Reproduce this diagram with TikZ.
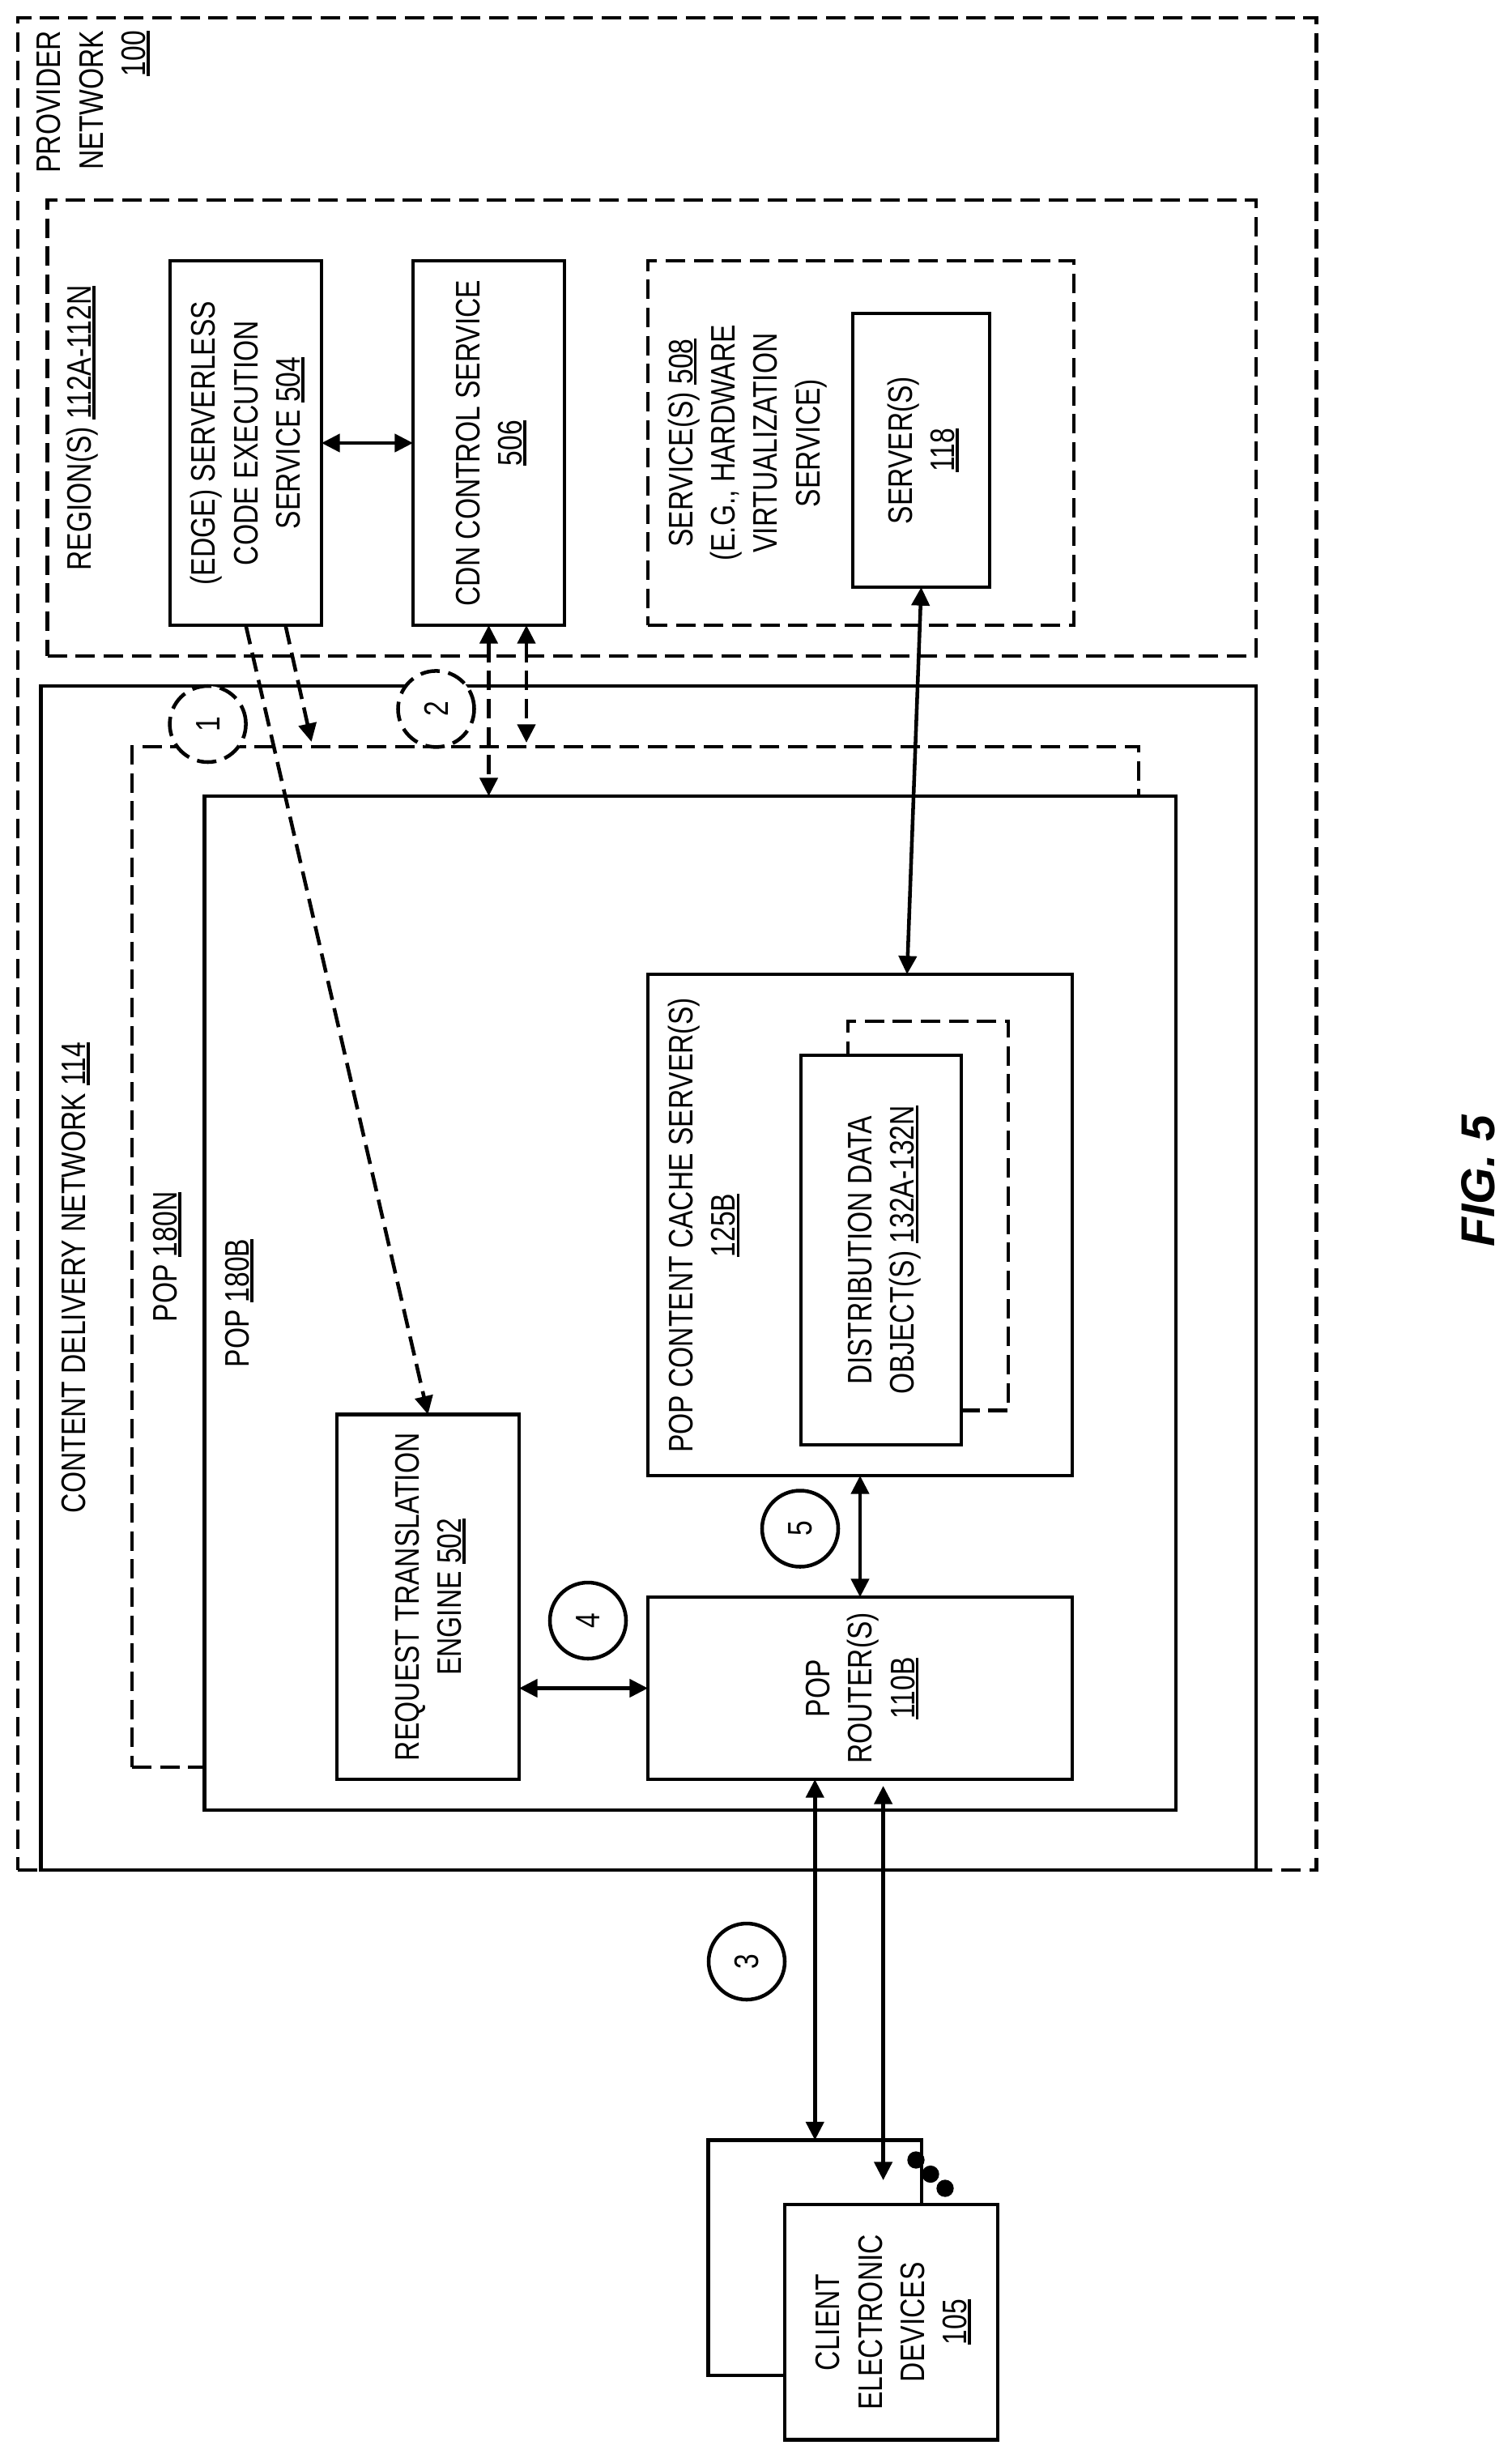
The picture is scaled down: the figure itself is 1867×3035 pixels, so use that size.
\documentclass[tikz,border=0pt]{standalone}
\usepackage{fontspec}
\setmainfont[FakeStretch=0.8]{Liberation Sans}
\newfontfamily\figfont[FakeStretch=1.0]{Liberation Sans}
\usetikzlibrary{arrows.meta}

\newcommand{\refnum}[1]{\setbox0\hbox{#1}\rlap{\smash{\raisebox{-4pt}{\rule{\wd0}{2.8pt}}}}\box0}
\newcommand{\vtext}[2][c]{\rotatebox{90}{\setbox\strutbox\hbox{\vrule height 30.7pt depth 8.6pt width 0pt}\begin{tabular}{@{}#1@{}}#2\end{tabular}}}

\tikzset{
  sized/.style 2 args={minimum width=#1*0.75pt,minimum height=#2*0.75pt},
  box/.style={draw,line width=3.4pt,inner sep=0pt,outer sep=0pt,fill=white},
  dashbox/.style={box,dash pattern=on 18pt off 8pt,line width=3.2pt},
  label/.style={inner sep=0pt,outer sep=0pt},
  numcircle/.style={box,circle,minimum size=70.5pt},
  dashcircle/.style={numcircle,dash pattern=on 18pt off 8pt},
  dot/.style={circle,fill=black,inner sep=0pt,minimum size=16pt},
  bothway/.style={line width=3.4pt,{Triangle[length=17pt,width=16.5pt]}-{Triangle[length=17pt,width=16.5pt]}},
  dashway/.style={bothway,dash pattern=on 18pt off 8pt},
  oneway/.style={line width=3.4pt,dash pattern=on 18pt off 8pt,-{Triangle[length=17pt,width=16.5pt]}}
}

\begin{document}
\begin{tikzpicture}[x=0.75pt,y=0.75pt,yscale=-1,xscale=1,font=\fontsize{31.5}{37.7}\selectfont]
\useasboundingbox (0,0) rectangle (1867,3035);

%Shape: Rectangle [provider network]
\node (provider) [dashbox,sized={1603.5}{2287}] at (823.75,1165.5) {};
%Shape: Rectangle [regions]
\node (region) [dashbox,sized={1492.5}{563}] at (804.75,528.5) {};
\node (edge) [box,sized={187}{450}] at (303.5,547) {\vtext{(EDGE) SERVERLESS\\CODE EXECUTION\\SERVICE \refnum{504}}};
\node (cdnctl) [box,sized={187}{450}] at (603.5,547) {\vtext{CDN CONTROL SERVICE\\\refnum{506}}};
\node (service) [dashbox,sized={526}{450}] at (1063,547) {};
\node (server) [box,sized={169}{338}] at (1137.5,556) {\vtext{SERVER(S)\\\refnum{118}}};
%Shape: Rectangle [content delivery network]
\node (cdnnet) [box,sized={1500.5}{1462}] at (800.75,1578) {};
\node (popn) [dashbox,sized={1243}{1260}] at (784.5,1552) {};
\node (popb) [box,sized={1199.4}{1252}] at (852.3,1609) {};
\node (rte) [box,sized={225}{450.5}] at (528.5,1971.75) {\vtext{REQUEST TRANSLATION\\ENGINE \refnum{502}}};
\node (cache) [box,sized={524}{619}] at (1062,1512.5) {};
\node (distback) [dashbox,sized={198}{480.5}] at (1146,1501.25) {};
\node (dist) [box,sized={198}{481}] at (1088,1543.5) {\vtext{DISTRIBUTION DATA\\OBJECT(S) \refnum{132A-132N}}};
\node (router) [box,sized={524}{225}] at (1062,2084.5) {\vtext{POP\\ROUTER(S)\\\refnum{110B}}};
%Shape: Rectangle [clients]
\node (clientback) [box,sized={263.5}{290.5}] at (1006.25,2787.75) {};
\node (client) [box,sized={263}{290.5}] at (1100.5,2867.25) {\vtext{CLIENT\\ELECTRONIC\\DEVICES\\\refnum{105}}};
\node (dota) [dot] at (1131,2667) {};
\node (dotb) [dot] at (1149,2684.5) {};
\node (dotc) [dot] at (1167,2702) {};

% Text Node
\node (providerlabel) [label,anchor=north] at (112.5,38) {\vtext[r]{PROVIDER\\NETWORK\\\refnum{100}}};
\node (regionlabel) [label] at (98,528.5) {\vtext{REGION(S) \refnum{112A-112N}}};
\node (servicelabel) [label] at (919,547) {\vtext{SERVICE(S) \refnum{508}\\(E.G., HARDWARE\\VIRTUALIZATION\\SERVICE)}};
\node (cdnlabel) [label] at (91,1577.5) {\vtext{CONTENT DELIVERY NETWORK \refnum{114}}};
\node (popnlabel) [label] at (204,1552) {\vtext{POP \refnum{180N}}};
\node (popblabel) [label] at (293,1609) {\vtext{POP \refnum{180B}}};
\node (cachelabel) [label] at (867,1513) {\vtext{POP CONTENT CACHE SERVER(S)\\\refnum{125B}}};
\node (figlabel) [label] at (1825,1458) {\rotatebox{90}{\fontsize{44}{50}\figfont\bfseries\itshape FIG. 5}};

% free ends of connectors
\coordinate (popntip) at (384.6,916);
\coordinate (popntop) at (650,917);
\coordinate (routertip) at (1090.6,2205);
\coordinate (clienttip) at (1090.6,2692);

%Straight Lines
\draw [bothway] (edge.east) -- (cdnctl.west);
\draw [oneway] ([xshift=36.75pt]edge.south) -- (popntip);
\draw [oneway] (edge.south) -- (rte.north);
\draw [dashway] (cdnctl.south) -- (cdnctl.south |- popb.north);
\draw [dashway] (popntop |- cdnctl.south) -- (popntop);
\draw [bothway] (server.south) -- ([xshift=43.5pt]cache.north);
\draw [bothway] (rte.east |- router.west) -- (router.west);
\draw [bothway] (cache.south) -- (router.north);
\draw [bothway] (clientback.north |- router.south) -- (clientback.north);
\draw [bothway] (routertip) -- (clienttip);

%Shape: Circle
\node (stepa) [dashcircle] at (256.6,894) {\rotatebox{90}{1}};
\node (stepb) [dashcircle] at (538.5,875.4) {\rotatebox{90}{2}};
\node (stepc) [numcircle] at (922,2422) {\rotatebox{90}{3}};
\node (stepd) [numcircle] at (726,2001) {\rotatebox{90}{4}};
\node (stepe) [numcircle] at (988,1887.5) {\rotatebox{90}{5}};

\end{tikzpicture}
\end{document}
